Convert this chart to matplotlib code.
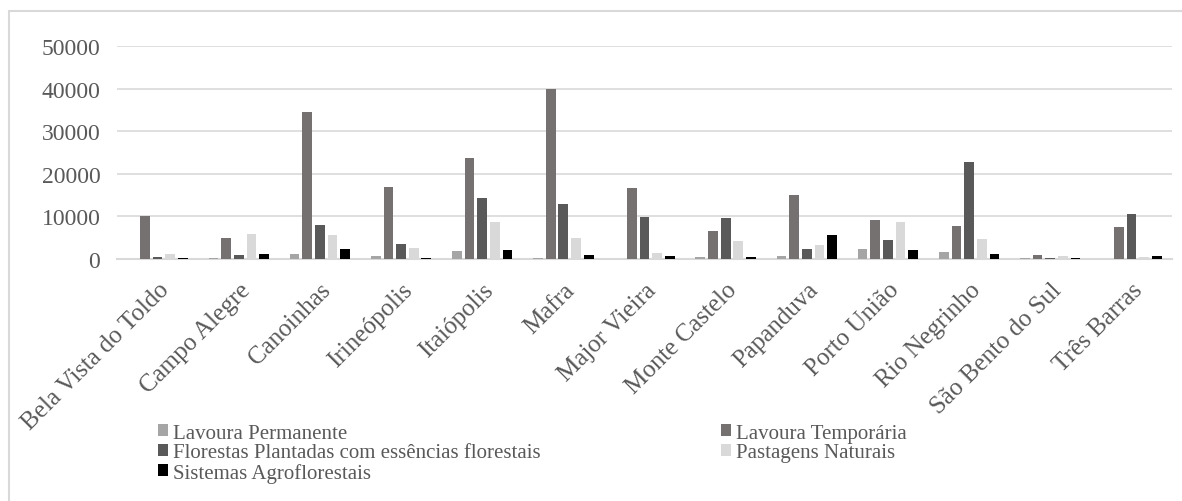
import numpy as np
import matplotlib.pyplot as plt
from matplotlib.patches import Patch, Rectangle

# Área por utilização da terra (ha) em cada município
municipios = ['Bela Vista do Toldo', 'Campo Alegre', 'Canoinhas', 'Irineópolis',
              'Itaiópolis', 'Mafra', 'Major Vieira', 'Monte Castelo', 'Papanduva',
              'Porto União', 'Rio Negrinho', 'São Bento do Sul', 'Três Barras']

lavoura_permanente = [0, 230, 1250, 620, 1880, 230, 0, 470, 620, 2420, 1640, 310, 0]
lavoura_temporaria = [10000, 4900, 34600, 16900, 23700, 39900, 16650, 6500, 15150, 9250, 7750, 950, 7450]
florestas_plantadas = [400, 950, 8000, 3450, 14450, 13050, 9800, 9700, 2450, 4400, 22900, 230, 10500]
pastagens_naturais = [1200, 5850, 5700, 2600, 8750, 4900, 1350, 4250, 3300, 8750, 4600, 620, 550]
sistemas_agroflorestais = [230, 1100, 2400, 230, 2100, 850, 620, 400, 5550, 2100, 1100, 230, 700]

series = [
    ('Lavoura Permanente', lavoura_permanente, '#a5a5a5'),
    ('Lavoura Temporária', lavoura_temporaria, '#767171'),
    ('Florestas Plantadas com essências florestais', florestas_plantadas, '#595959'),
    ('Pastagens Naturais', pastagens_naturais, '#d9d9d9'),
    ('Sistemas Agroflorestais', sistemas_agroflorestais, '#000000'),
]

plt.rcParams['font.family'] = 'serif'
plt.rcParams['font.serif'] = ['Liberation Serif', 'DejaVu Serif']
text_color = '#595959'
grid_color = '#d9d9d9'

fig = plt.figure(figsize=(11.82, 5.02), dpi=100)
ax = fig.add_axes([0.099, 0.482, 0.8925, 0.4238])

x = np.arange(len(municipios))
slot = 0.156
width = 0.12
for i, (nome, valores, cor) in enumerate(series):
    ax.bar(x + (i - 2) * slot, valores, width=width, color=cor, label=nome, zorder=3)

ax.set_xlim(-0.5, len(municipios) - 0.5)
ax.set_ylim(0, 50000)
ax.set_yticks(np.arange(0, 50001, 10000))
ax.yaxis.grid(True, color=grid_color, linewidth=1.2, zorder=0)
for lado in ['top', 'right', 'left']:
    ax.spines[lado].set_visible(False)
ax.spines['bottom'].set_color(grid_color)
ax.spines['bottom'].set_linewidth(1.5)
ax.tick_params(axis='both', length=0, colors=text_color)
ax.tick_params(axis='y', pad=12, labelsize=17)
ax.set_xticks(x)
ax.set_xticklabels(municipios, rotation=45, ha='right', rotation_mode='anchor')
ax.tick_params(axis='x', pad=14, labelsize=18)

# legenda em duas colunas, preenchida por linha
ordem = [0, 2, 4, 1, 3]
handles = [Patch(facecolor=series[k][2], label=series[k][0]) for k in ordem]
leg = fig.legend(handles=handles, ncol=2, loc='upper left',
                 bbox_to_anchor=(0.1252, 0.175), frameon=False,
                 fontsize=15, handlelength=0.48, handleheight=0.5,
                 handletextpad=0.24, labelspacing=0.03, columnspacing=8.64,
                 borderpad=0)
for t in leg.get_texts():
    t.set_color(text_color)

# moldura do gráfico
fig.patches.append(Rectangle((8.5 / 1182, -0.1), 1.2, 1.1 - 11.7 / 502,
                             transform=fig.transFigure, fill=False,
                             edgecolor=grid_color, linewidth=1.5))

fig.savefig('out.png', dpi=100)
